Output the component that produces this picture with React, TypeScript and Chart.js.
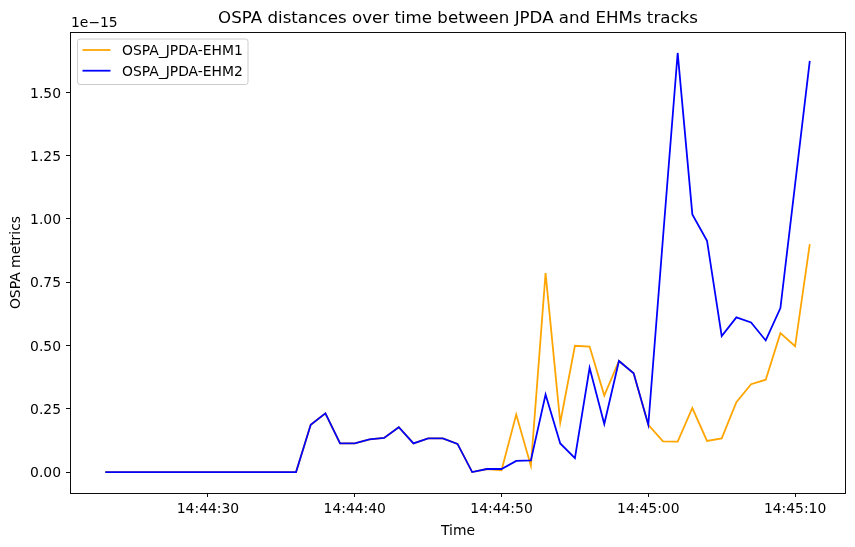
import React, { useEffect, useRef } from 'react';
import { Chart, registerables } from 'chart.js';

Chart.register(...registerables);

// Sample timestamps (one per second)
const TIMES = [
  '14:44:23', '14:44:24', '14:44:25', '14:44:26', '14:44:27', '14:44:28', '14:44:29',
  '14:44:30', '14:44:31', '14:44:32', '14:44:33', '14:44:34', '14:44:35', '14:44:36',
  '14:44:37', '14:44:38', '14:44:39', '14:44:40', '14:44:41', '14:44:42', '14:44:43',
  '14:44:44', '14:44:45', '14:44:46', '14:44:47', '14:44:48', '14:44:49', '14:44:50',
  '14:44:51', '14:44:52', '14:44:53', '14:44:54', '14:44:55', '14:44:56', '14:44:57',
  '14:44:58', '14:44:59', '14:45:00', '14:45:01', '14:45:02', '14:45:03', '14:45:04',
  '14:45:05', '14:45:06', '14:45:07', '14:45:08', '14:45:09', '14:45:10', '14:45:11',
];

// OSPA distances, in units of 1e-15
const OSPA_EHM1 = [
  0, 0, 0, 0, 0, 0, 0,
  0, 0, 0, 0, 0, 0, 0,
  0.187, 0.232, 0.113, 0.113, 0.129, 0.135, 0.177,
  0.113, 0.133, 0.133, 0.111, 0.0, 0.012, 0.007,
  0.227, 0.025, 0.786, 0.195, 0.499, 0.496, 0.302,
  0.439, 0.39, 0.187, 0.121, 0.12, 0.253, 0.123,
  0.133, 0.276, 0.347, 0.365, 0.549, 0.497, 0.901,
];

const OSPA_EHM2 = [
  0, 0, 0, 0, 0, 0, 0,
  0, 0, 0, 0, 0, 0, 0,
  0.187, 0.232, 0.113, 0.113, 0.129, 0.135, 0.177,
  0.113, 0.133, 0.133, 0.111, 0.0, 0.012, 0.012,
  0.044, 0.046, 0.306, 0.113, 0.055, 0.412, 0.19,
  0.439, 0.39, 0.187, 0.926, 1.656, 1.018, 0.914,
  0.537, 0.611, 0.591, 0.52, 0.648, 1.137, 1.625,
];

const SERIES_NAMES = ['OSPA_JPDA-EHM1', 'OSPA_JPDA-EHM2'];
const SERIES_COLORS = ['#ffa500', '#0000ff'];

const Y_TICKS = [0, 0.25, 0.5, 0.75, 1.0, 1.25, 1.5];
const X_TICK_LABELS = ['14:44:30', '14:44:40', '14:44:50', '14:45:00', '14:45:10'];
const OFFSET_LABEL = '1e\u221215';

const TITLE = 'OSPA distances over time between JPDA and EHMs tracks';
const X_TITLE = 'Time';
const Y_TITLE = 'OSPA metrics';

const FONT = "'DejaVu Sans', sans-serif";
const SMALL = 13.9;
const LARGE = 16.67;

const toSeconds = (s: string) => {
  const [h, m, sec] = s.split(':').map(Number);
  return h * 3600 + m * 60 + sec;
};

const W = 855;
const H = 547;

export default function App() {
  const canvasRef = useRef<HTMLCanvasElement | null>(null);

  useEffect(() => {
    const canvas = canvasRef.current;
    if (!canvas) return;

    const xs = TIMES.map(toSeconds);
    const xMinD = Math.min(...xs);
    const xMaxD = Math.max(...xs);
    const xPad = (xMaxD - xMinD) * 0.05;

    const allY = [...OSPA_EHM1, ...OSPA_EHM2];
    const yMinD = Math.min(...allY);
    const yMaxD = Math.max(...allY);
    const yPad = (yMaxD - yMinD) * 0.05;

    const xTickValues = X_TICK_LABELS.map(toSeconds);
    const xTickText = new Map(xTickValues.map((v, i) => [v, X_TICK_LABELS[i]]));

    const decorations = {
      id: 'decorations',
      afterDraw(chart: Chart) {
        const { ctx, chartArea } = chart;
        const { left, right, top, bottom } = chartArea;
        const xScale: any = chart.scales.x;
        const yScale: any = chart.scales.y;
        ctx.save();

        // axes frame
        ctx.strokeStyle = '#000';
        ctx.lineWidth = 0.95;
        ctx.strokeRect(left + 0.5, top + 0.5, right - left, bottom - top);

        ctx.fillStyle = '#000';
        ctx.textBaseline = 'alphabetic';

        // tick labels, placed by the scales
        ctx.font = `${SMALL}px ${FONT}`;
        ctx.textAlign = 'center';
        xScale.ticks.forEach((t: any) => {
          const px = xScale.getPixelForValue(t.value);
          ctx.fillText(xTickText.get(t.value) ?? '', px, bottom + 20.3);
        });
        ctx.textAlign = 'right';
        yScale.ticks.forEach((t: any) => {
          const py = yScale.getPixelForValue(t.value);
          ctx.fillText(Number(t.value).toFixed(2), left - 9, py + 5.2);
        });

        // title
        ctx.font = `${LARGE}px ${FONT}`;
        ctx.textAlign = 'center';
        ctx.fillText(TITLE, (left + right) / 2 + 0.5, 22.7);

        // scale offset label
        ctx.font = `${SMALL}px ${FONT}`;
        ctx.textAlign = 'left';
        ctx.fillText(OFFSET_LABEL, left + 1, 27.3);

        // axis titles
        ctx.textAlign = 'center';
        ctx.fillText(X_TITLE, (left + right) / 2 + 0.5, 535);
        ctx.save();
        ctx.translate(20, (top + bottom) / 2);
        ctx.rotate(-Math.PI / 2);
        ctx.fillText(Y_TITLE, 0, 0);
        ctx.restore();

        // legend
        const lx = left + 7.5;
        const ly = top + 7;
        const lw = 170.5;
        const lh = 45.5;
        const r = 2.5;
        ctx.beginPath();
        ctx.moveTo(lx + r, ly);
        ctx.lineTo(lx + lw - r, ly);
        ctx.arcTo(lx + lw, ly, lx + lw, ly + r, r);
        ctx.lineTo(lx + lw, ly + lh - r);
        ctx.arcTo(lx + lw, ly + lh, lx + lw - r, ly + lh, r);
        ctx.lineTo(lx + r, ly + lh);
        ctx.arcTo(lx, ly + lh, lx, ly + lh - r, r);
        ctx.lineTo(lx, ly + r);
        ctx.arcTo(lx, ly, lx + r, ly, r);
        ctx.closePath();
        ctx.fillStyle = 'rgba(255,255,255,0.8)';
        ctx.fill();
        ctx.strokeStyle = '#cccccc';
        ctx.lineWidth = 1;
        ctx.stroke();

        SERIES_NAMES.forEach((name, i) => {
          const cy = ly + 11 + i * 20.7;
          ctx.strokeStyle = SERIES_COLORS[i];
          ctx.lineWidth = 1.78;
          ctx.beginPath();
          ctx.moveTo(lx + 5, cy);
          ctx.lineTo(lx + 33, cy);
          ctx.stroke();
          ctx.fillStyle = '#000';
          ctx.font = `${SMALL}px ${FONT}`;
          ctx.textAlign = 'left';
          ctx.fillText(name, lx + 44.5, cy + 5);
        });

        ctx.restore();
      },
    };

    const chart = new Chart(canvas, {
      type: 'line',
      data: {
        datasets: [
          {
            label: SERIES_NAMES[0],
            data: xs.map((x, i) => ({ x, y: OSPA_EHM1[i] })),
            borderColor: SERIES_COLORS[0],
            backgroundColor: SERIES_COLORS[0],
            borderWidth: 1.78,
            pointRadius: 0,
            tension: 0,
            fill: false,
            order: 2,
          },
          {
            label: SERIES_NAMES[1],
            data: xs.map((x, i) => ({ x, y: OSPA_EHM2[i] })),
            borderColor: SERIES_COLORS[1],
            backgroundColor: SERIES_COLORS[1],
            borderWidth: 1.78,
            pointRadius: 0,
            tension: 0,
            fill: false,
            order: 1,
          },
        ],
      },
      options: {
        responsive: false,
        animation: false,
        devicePixelRatio: 1,
        layout: { padding: { left: 0, right: 10, top: 32, bottom: 0 } },
        plugins: {
          legend: { display: false },
          title: { display: false },
          tooltip: { enabled: false },
        },
        scales: {
          x: {
            type: 'linear',
            min: xMinD - xPad,
            max: xMaxD + xPad,
            border: { display: false },
            grid: {
              display: true,
              drawOnChartArea: false,
              drawTicks: true,
              tickLength: 4,
              color: '#000',
              lineWidth: 0.95,
            },
            ticks: { display: false, autoSkip: false },
            afterBuildTicks: (scale: any) => {
              scale.ticks = xTickValues.map((value) => ({ value }));
            },
            afterFit: (scale: any) => {
              scale.height = 54;
            },
          },
          y: {
            type: 'linear',
            min: yMinD - yPad,
            max: yMaxD + yPad,
            border: { display: false },
            grid: {
              display: true,
              drawOnChartArea: false,
              drawTicks: true,
              tickLength: 4,
              color: '#000',
              lineWidth: 0.95,
            },
            ticks: { display: false, autoSkip: false },
            afterBuildTicks: (scale: any) => {
              scale.ticks = Y_TICKS.map((value) => ({ value }));
            },
            afterFit: (scale: any) => {
              scale.width = 70;
            },
          },
        },
      },
      plugins: [decorations],
    });

    return () => chart.destroy();
  }, []);

  return (
    <div style={{ position: 'fixed', left: 0, top: 0, width: W, height: H, background: '#fff' }}>
      <canvas ref={canvasRef} width={W} height={H} style={{ width: W, height: H, display: 'block' }} />
    </div>
  );
}
